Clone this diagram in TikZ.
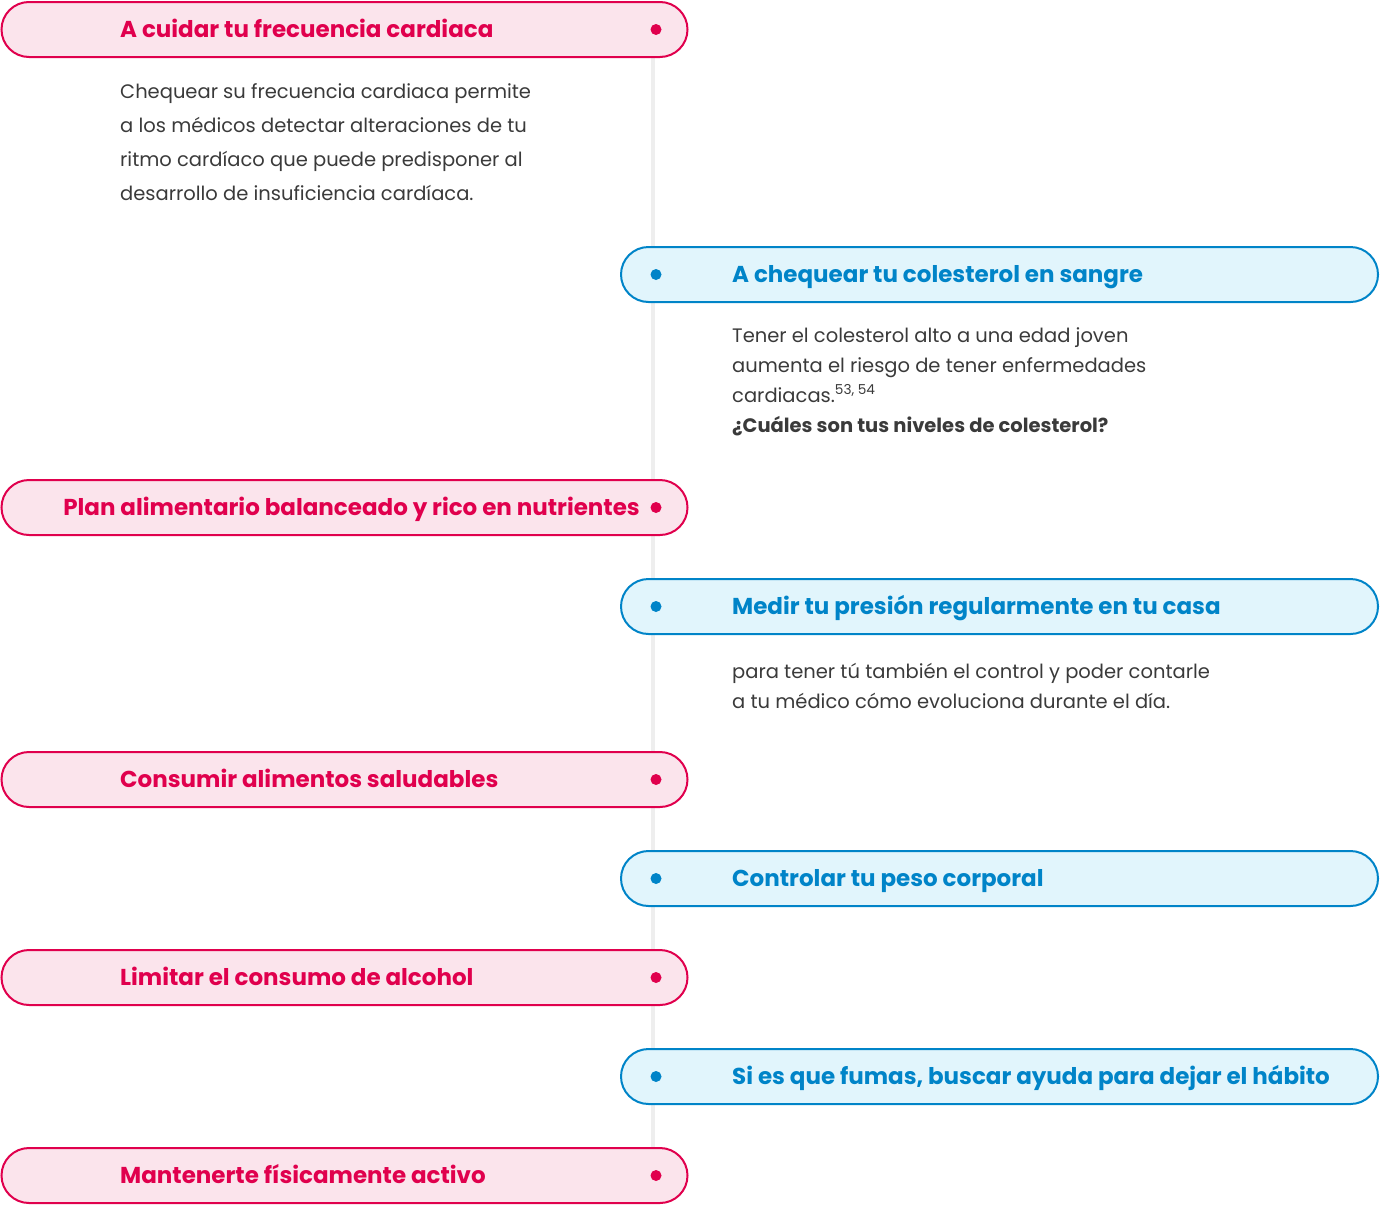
\documentclass[tikz,border=0pt]{standalone}
\usepackage{fontspec}
\setmainfont{Poppins}
\usetikzlibrary{positioning}
\definecolor{crimson}{HTML}{E0004D}
\definecolor{pinkfill}{HTML}{FBE4EC}
\definecolor{ocean}{HTML}{0084C8}
\definecolor{skyfill}{HTML}{E1F5FC}
\definecolor{ink}{HTML}{3A3A3A}
\definecolor{rail}{HTML}{EEEEEE}
\tikzset{
    pill/.style = {rounded corners=27.5pt, minimum height=55pt, line width=2pt, inner sep=0pt},
    pinkpill/.style = {pill, draw=crimson, fill=pinkfill, minimum width=686pt},
    bluepill/.style = {pill, draw=ocean, fill=skyfill, minimum width=757pt},
    pinktitle/.style = {anchor=base west, text=crimson, font=\fontsize{23}{26}\selectfont\bfseries, inner sep=0pt},
    bluetitle/.style = {pinktitle, text=ocean},
    body/.style = {anchor=base west, text=ink, inner sep=0pt}
}
\newcommand{\bodylines}[2]{\parbox[t]{600pt}{\raggedright\fontsize{19.5}{#1}\selectfont #2}}

\begin{document}
\begin{tikzpicture}[x=1pt, y=-1pt,
    dot/.style = {circle, minimum size=11pt, inner sep=0pt}]
    \useasboundingbox (0,0) rectangle (1380,1205);
    \coordinate (top) at (653,30);
    \coordinate (bottom) at (653,1175);
    \draw[rail, line width=4pt] (top) -- (bottom);

    % left column
    \node[pinkpill] (cuidar) at (344.5,29.5) {};
    \node[pinkpill] (plan) at (344.5,507.5) {};
    \node[pinkpill] (consumir) at (344.5,779.5) {};
    \node[pinkpill] (limitar) at (344.5,977.5) {};
    \node[pinkpill] (mantener) at (344.5,1175.5) {};

    % right column
    \node[bluepill] (colesterol) at (999.5,274.5) {};
    \node[bluepill] (presion) at (999.5,606.5) {};
    \node[bluepill] (peso) at (999.5,878.5) {};
    \node[bluepill] (fumar) at (999.5,1076.5) {};

    \foreach \p in {cuidar,plan,consumir,limitar,mantener}
        \node[dot, fill=crimson] at (656,0 |- \p) {};
    \foreach \p in {colesterol,presion,peso,fumar}
        \node[dot, fill=ocean] at (656,0 |- \p) {};

    \node[pinktitle] (t-cuidar) at (120,37.5) {A cuidar tu frecuencia cardiaca};
    \node[pinktitle, anchor=base east] (t-plan) at (640,515.5) {Plan alimentario balanceado y rico en nutrientes};
    \node[pinktitle] (t-consumir) at (120,787.5) {Consumir alimentos saludables};
    \node[pinktitle] (t-limitar) at (120,985.5) {Limitar el consumo de alcohol};
    \node[pinktitle] (t-mantener) at (120,1183.5) {Mantenerte físicamente activo};

    \node[bluetitle] (t-colesterol) at (732,282.5) {A chequear tu colesterol en sangre};
    \node[bluetitle] (t-presion) at (732,614.5) {Medir tu presión regularmente en tu casa};
    \node[bluetitle] (t-peso) at (732,886.5) {Controlar tu peso corporal};
    \node[bluetitle] (t-fumar) at (732,1084.5) {Si es que fumas, buscar ayuda para dejar el hábito};

    \node[body] (b-cuidar) at (120,98) {\bodylines{34}{%
        Chequear su frecuencia cardiaca permite\\
        a los médicos detectar alteraciones de tu\\
        ritmo cardíaco que puede predisponer al\\
        desarrollo de insuficiencia cardíaca.}};
    \node[body] (b-colesterol) at (732,342) {\bodylines{30}{%
        Tener el colesterol alto a una edad joven\\
        aumenta el riesgo de tener enfermedades\\
        cardiacas.\textsuperscript{53, 54}\\
        \textbf{¿Cuáles son tus niveles de colesterol?}}};
    \node[body] (b-presion) at (732,678) {\bodylines{30}{%
        para tener tú también el control y poder contarle\\
        a tu médico cómo evoluciona durante el día.}};
\end{tikzpicture}
\end{document}
